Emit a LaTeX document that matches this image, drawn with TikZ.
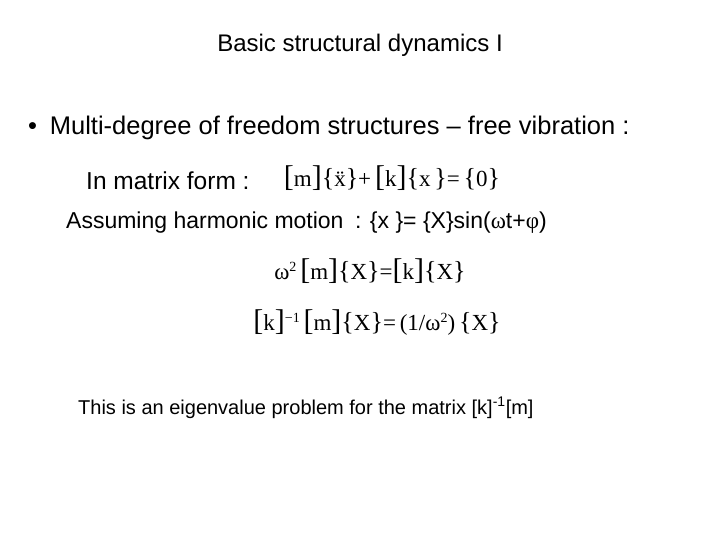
\documentclass[tikz,border=0pt]{standalone}
\usepackage{fontspec}
\setmainfont{Liberation Sans}
\newfontfamily\eqfont{Liberation Serif}
\newcommand{\Bk}[1]{{\fontsize{30}{30}\selectfont[}#1{\fontsize{30}{30}\selectfont]}}
\newcommand{\Br}[1]{{\fontsize{26}{26}\selectfont\{}#1{\fontsize{26}{26}\selectfont\}}}
\begin{document}
\begin{tikzpicture}[x=1pt,y=-1pt,
  txt/.style={anchor=west,inner sep=0pt,font=\fontsize{25.5}{28}\selectfont},
  eq/.style={inner sep=0pt,font=\eqfont\fontsize{23}{26}\selectfont}]
\useasboundingbox (0,0) rectangle (720,540);
\node[inner sep=0pt,font=\fontsize{24}{28}\selectfont] (title) at (360,45) {Basic structural dynamics I};
\node[txt] (b1) at (28,128) {\textbullet\enspace Multi-degree of freedom structures -- free vibration :};
\node[txt,font=\fontsize{24.5}{28}\selectfont] (mf) at (86,181) {In matrix form :};
\node[eq] (e1) at (392,178) {\Bk{m}\Br{\"x}+\,\Bk{k}\Br{x\,}=\,\Br{0}};
\node[txt,font=\fontsize{23}{27}\selectfont] (hm) at (66,223) {Assuming harmonic motion\enspace: \{x \}= \{X\}sin(\eqfont ω\fontspec{Liberation Sans}t+\eqfont φ\fontspec{Liberation Sans})};
\node[eq] (e2) at (370,271) {ω\raisebox{8pt}{\fontsize{14}{14}\selectfont 2}\,\Bk{m}\Br{X}=\Bk{k}\Br{X}};
\node[eq] (e3) at (377,323) {\Bk{k}\raisebox{8pt}{\fontsize{14}{14}\selectfont −1}\,\Bk{m}\Br{X}=\,(1/ω\raisebox{8pt}{\fontsize{14}{14}\selectfont 2})\,\Br{X}};
\node[anchor=west,inner sep=0pt,font=\fontsize{20}{24}\selectfont] (ev) at (78,408) {This is an eigenvalue problem for the matrix [k]\textsuperscript{-1}[m]};
\end{tikzpicture}
\end{document}
